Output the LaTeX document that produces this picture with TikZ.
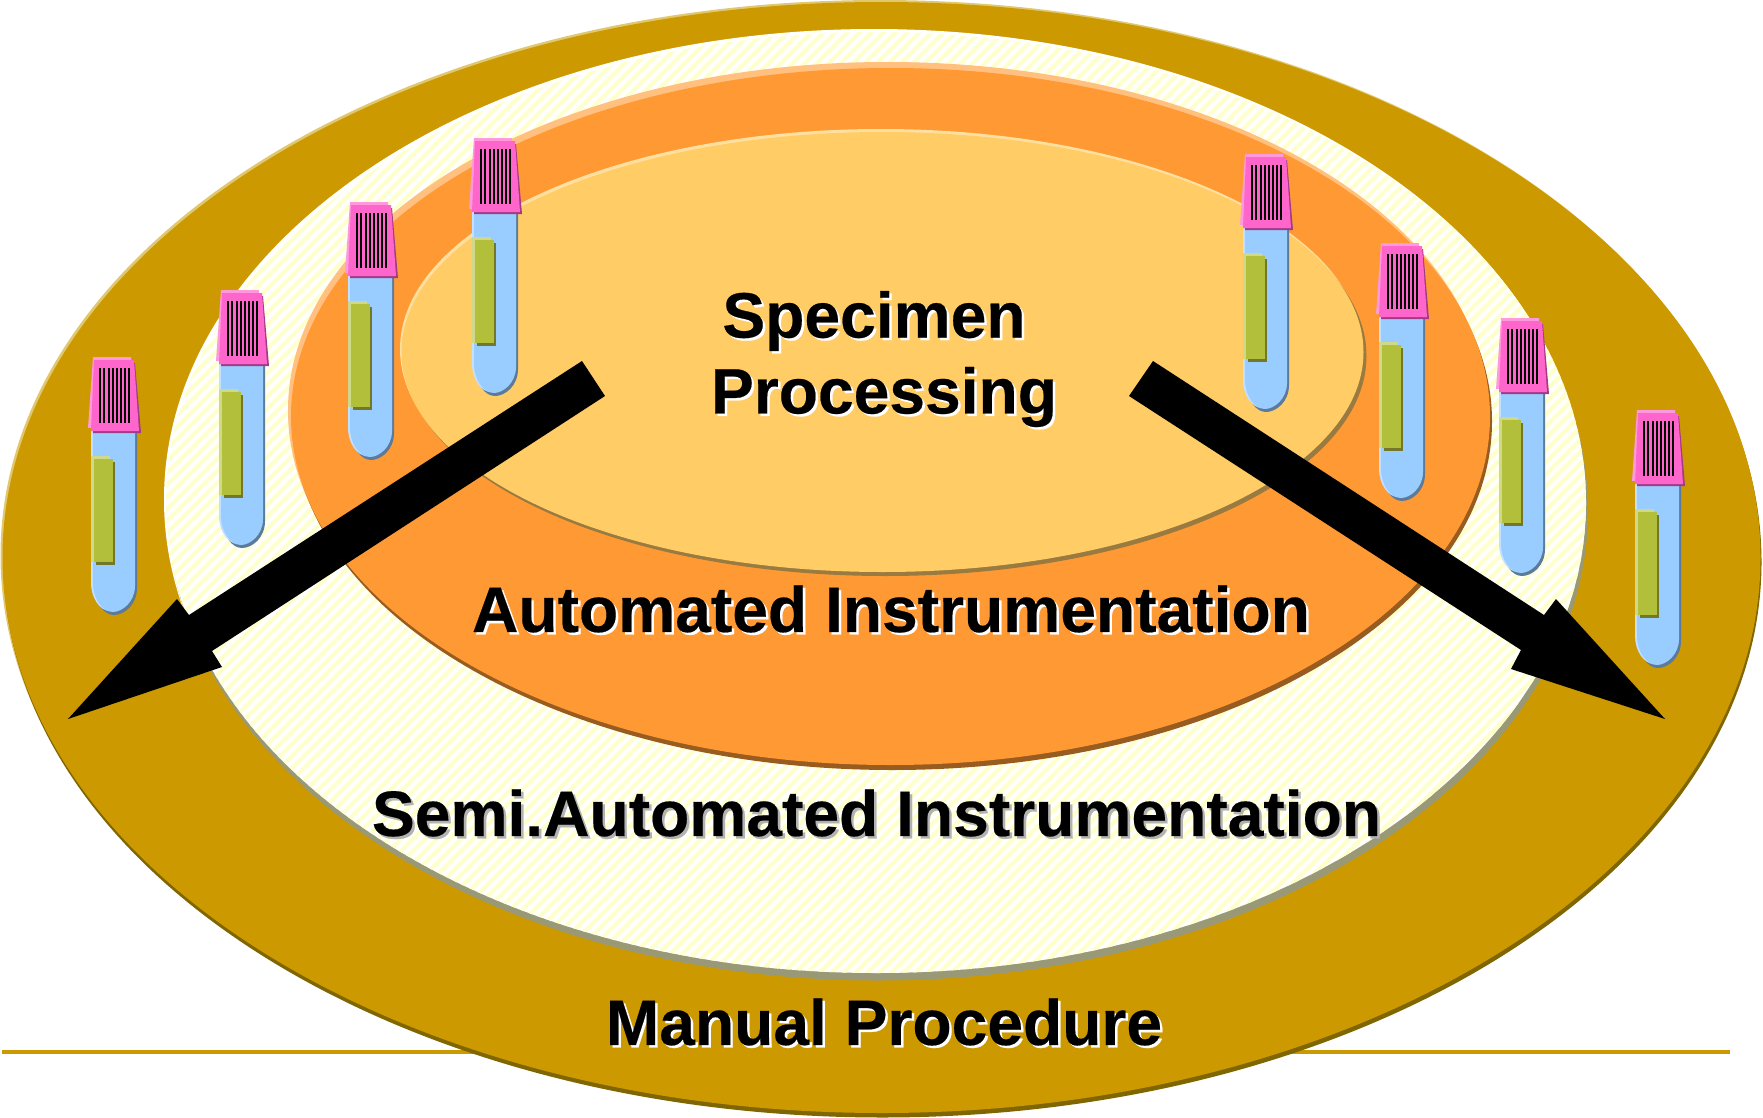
\documentclass[tikz,border=0pt]{standalone}
\usepackage{fontspec}
\setmainfont{Liberation Sans}[BoldFeatures={FakeBold=0.3}]
\definecolor{goldc}{HTML}{CC9900}
\definecolor{goldl}{HTML}{E0C870}
\definecolor{goldd}{HTML}{806600}
\definecolor{stripec}{HTML}{FFFFCC}
\definecolor{semid}{HTML}{999977}
\definecolor{orangec}{HTML}{FF9933}
\definecolor{orangel}{HTML}{FFC080}
\definecolor{oranged}{HTML}{995C20}
\definecolor{yellowc}{HTML}{FFCC66}
\definecolor{yellowl}{HTML}{FFE0A0}
\definecolor{yellowd}{HTML}{997A40}
\definecolor{bluec}{HTML}{99CCFF}
\definecolor{bluel}{HTML}{C2E0FF}
\definecolor{blued}{HTML}{5C7A99}
\definecolor{pinkc}{HTML}{FF66CC}
\definecolor{pinkl}{HTML}{FF99DD}
\definecolor{pinkd}{HTML}{A33A85}
\definecolor{greenc}{HTML}{B2BF3A}
\definecolor{greenl}{HTML}{D0D98A}
\definecolor{greend}{HTML}{72772A}
\tikzset{
  lbl/.style={font=\fontsize{18.25}{22}\selectfont\bfseries, text=black, inner sep=0pt},
}
\newcommand{\ringlabel}[5]{
  \node[lbl, text=#5] (#1back) at (#2+2.5,#3+2.5) {#4};
  \node[lbl] (#1) at (#2,#3) {#4};
}
\begin{document}
\begin{tikzpicture}[x=0.01cm,y=-0.01cm]
    \useasboundingbox (0,0) rectangle (1763,1118);

    % base line behind the outer ring
    \draw[goldc, line width=0.9pt] (2,1052) -- (1730,1052);

    % rings
    \fill[goldl] (879.5,555.5) ellipse [x radius=879, y radius=555.5];
    \fill[goldd] (882.5,562) ellipse [x radius=879, y radius=555.5];
    \fill[goldc] (881.5,557.5) ellipse [x radius=879, y radius=555.5];

    \fill[white] (874,499.5) ellipse [x radius=710, y radius=470.5];
    \fill[semid] (878,510) ellipse [x radius=710, y radius=470.5];
    \begin{scope}
        \clip (876,502.5) ellipse [x radius=710, y radius=470.5];
        \fill[white] (150,20) rectangle (1600,980);
        \foreach \x in {160,172,...,2600} {
            \draw[stripec, line width=1.2pt] (\x,0) -- +(-1000,1000);
        }
    \end{scope}

    \fill[orangel] (887.5,410.5) ellipse [x radius=599.5, y radius=348.5];
    \fill[oranged] (892.5,421.5) ellipse [x radius=599.5, y radius=348.5];
    \fill[orangec] (890.5,416.5) ellipse [x radius=599.5, y radius=348.5];

    \fill[yellowl] (881,349) ellipse [x radius=481, y radius=220];
    \fill[yellowd] (885.5,356) ellipse [x radius=481, y radius=220];
    \fill[yellowc] (882.5,352) ellipse [x radius=481, y radius=220];

    % tubes
    \foreach \x/\y in {114/358, 242/291, 371/203, 495/139, 1266/155, 1402/244, 1522/319, 1658/411} {
        \begin{scope}[shift={(\x,\y)}]
            \fill[blued] (-19,60) -- (23,60) -- (23,230) .. controls (23,247) and (10,257) .. (0,257) .. controls (-10,257) and (-19,245) .. (-19,230) -- cycle;
            \fill[bluel] (-23,60) -- (19,60) -- (19,228) .. controls (19,244) and (6,253) .. (-4,253) .. controls (-14,253) and (-23,240) .. (-23,225) -- cycle;
            \fill[bluec] (-21,60) -- (21,60) -- (21,228) .. controls (21,244) and (8,254) .. (-1,254) .. controls (-12,254) and (-21,240) .. (-21,225) -- cycle;

            \fill[greend] (-18,104) rectangle (1,207);
            \fill[greenl] (-23,98) rectangle (-4,204);
            \fill[greenc] (-20,101) rectangle (-1,204);

            \fill[pinkd] (-16,5) -- (21,5) -- (27,75) -- (-21,75) -- cycle;
            \fill[pinkl] (-21,-1) -- (17,-1) -- (21,68) -- (-26,70) -- cycle;
            \fill[pinkc] (-20,2) -- (20,2) -- (25,73) -- (-23,73) -- cycle;
            \foreach \b in {0,...,7} {
                \fill[black] (-14.7+\b*4.1,10) rectangle +(2,55);
            }
        \end{scope}
    }

    % arrows
    \fill[black] (582,361) -- (605,396) -- (212,651) -- (222,667) -- (68,719) -- (177,599) -- (189,615) -- cycle;
    \fill[black] (1153,361) -- (1129,396) -- (1521,650) -- (1511,669) -- (1665,719) -- (1556,599) -- (1544,615) -- cycle;

    % labels
    \ringlabel{specimen}{874}{321}{Specimen}{white}
    \ringlabel{processing}{884}{397}{Processing}{white}
    \ringlabel{automated}{891}{609}{Automated Instrumentation}{white}
    \ringlabel{semi}{876.5}{813}{Semi.Automated Instrumentation}{black!30}
    \ringlabel{manual}{884}{1022}{Manual Procedure}{white}
\end{tikzpicture}
\end{document}
